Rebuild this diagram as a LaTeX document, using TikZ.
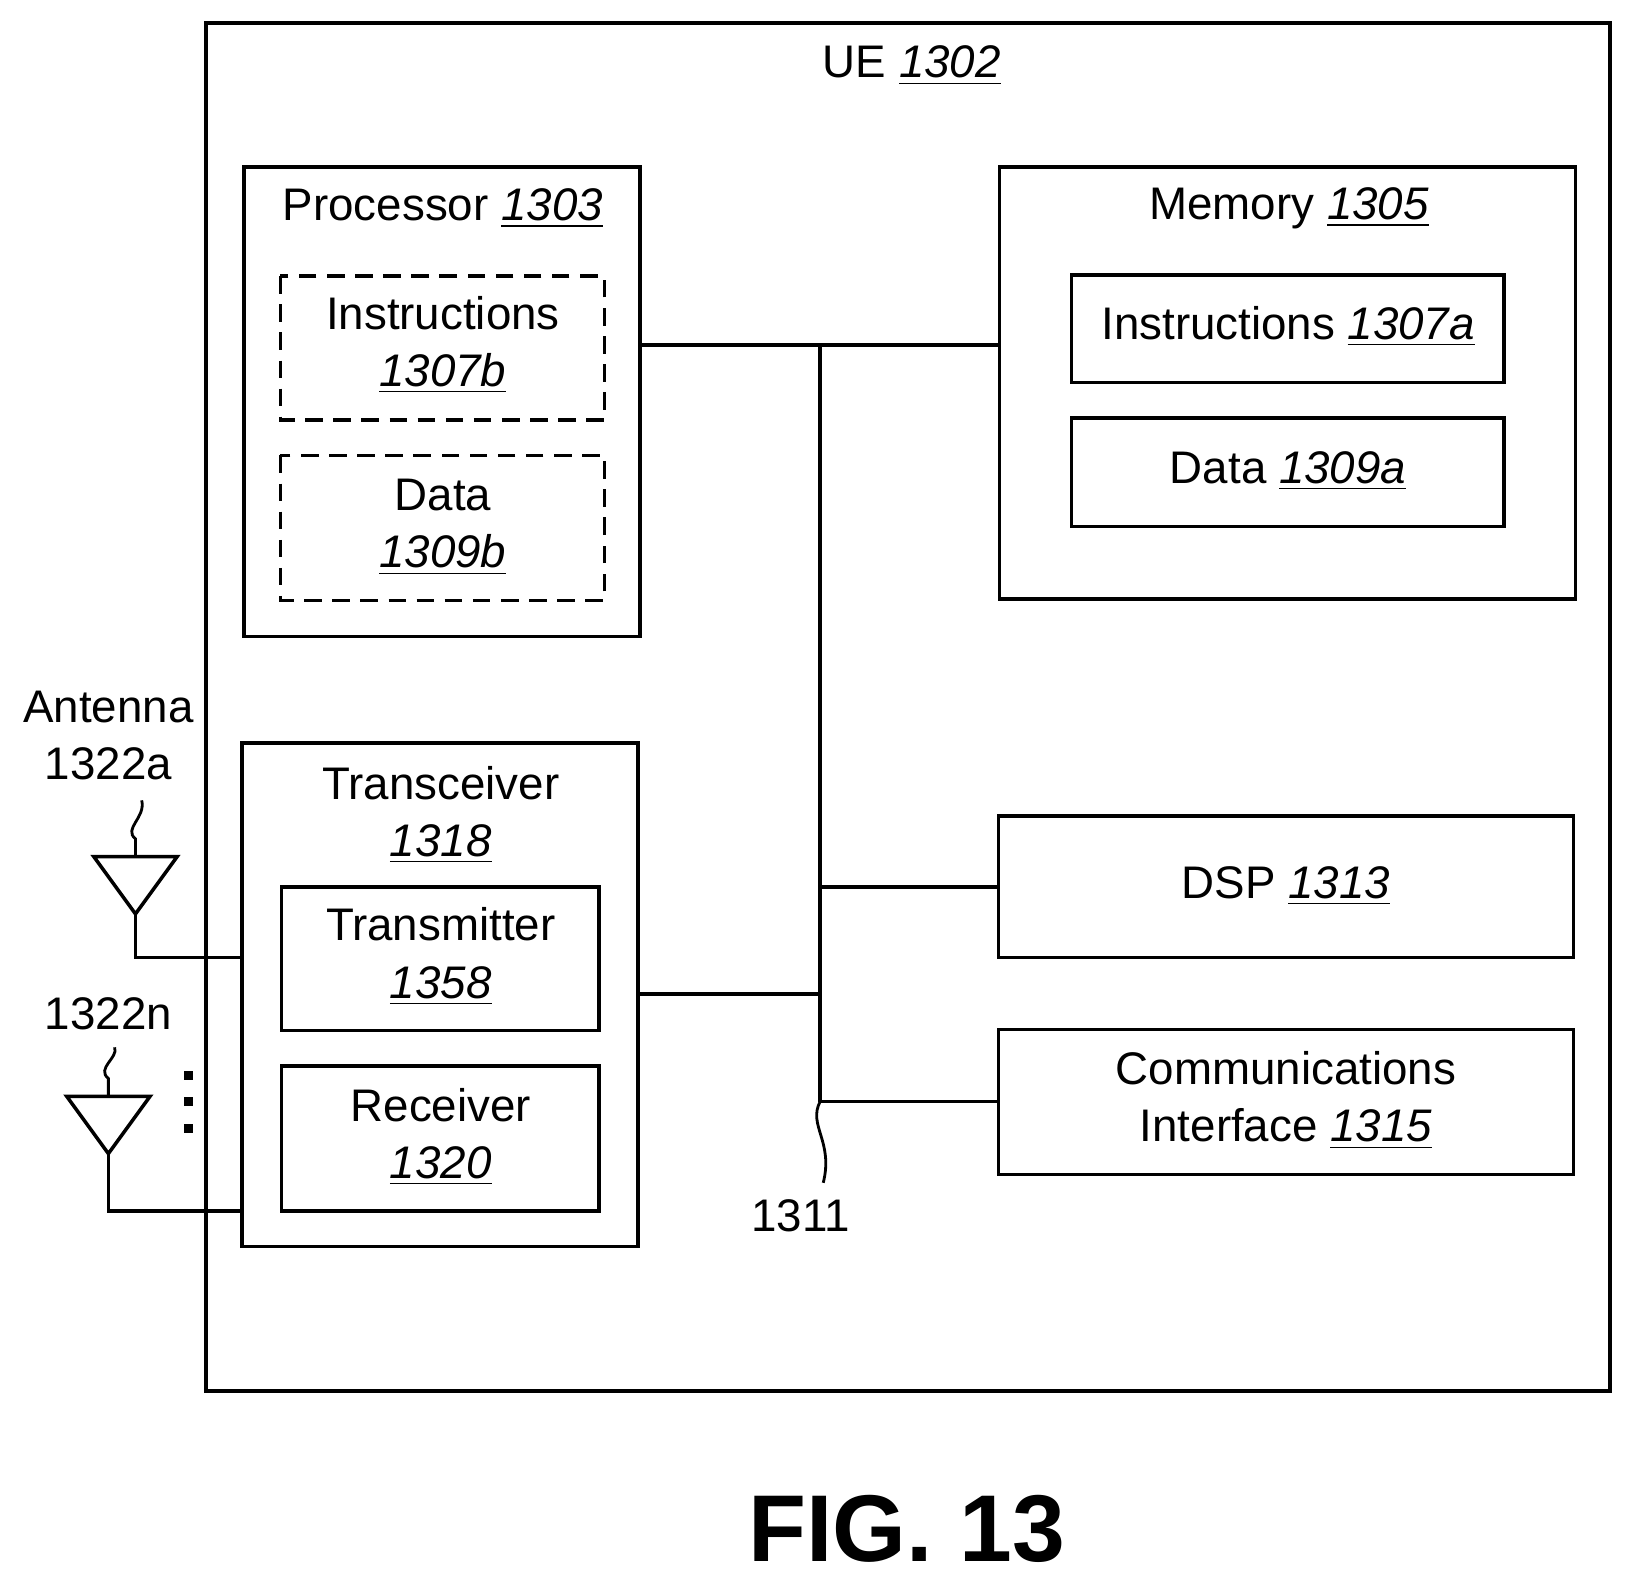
\documentclass[tikz,border=0pt]{standalone}
\usepackage{fontspec}
\setmainfont{Liberation Sans}
\newcommand{\rn}[1]{\underline{\textit{#1}}}
\begin{document}
\begin{tikzpicture}[x=0.01042cm,y=-0.01042cm,
  box/.style={draw,line width=1pt},
  dbox/.style={draw,line width=1pt,dash pattern=on 5pt off 3pt},
  ln/.style={line width=1pt},
  txt/.style={font=\fontsize{13}{16.3}\selectfont,align=center,inner sep=0pt}]
\useasboundingbox (0,0) rectangle (1568,1521);
\draw[line width=1.2pt] (198,22) rectangle (1545,1335);
\node[txt] (ue) at (875,63) {UE \rn{1302}};
\draw[box] (234,160) rectangle (614,611);
\coordinate (procR) at (614,331);
\node[txt] (proc) at (425,200) {Processor \rn{1303}};
\draw[dbox] (269,265) rectangle (580,403);
\node[txt] (i7b) at (425,331) {Instructions\\\rn{1307b}};
\draw[dbox] (269,437) rectangle (580,576);
\node[txt] (d9b) at (425,506) {Data\\\rn{1309b}};
\draw[box] (959,160) rectangle (1512,575);
\coordinate (memL) at (959,331);
\node[txt] (mem) at (1237,200) {Memory \rn{1305}};
\draw[box] (1028,264) rectangle (1443,367);
\node[txt] (i7a) at (1236,313) {Instructions \rn{1307a}};
\draw[box] (1028,401) rectangle (1443,505);
\node[txt] (d9a) at (1236,452) {Data \rn{1309a}};
\draw[box] (232,713) rectangle (612,1196);
\coordinate (trR) at (612,954);
\coordinate (trL1) at (232,919);
\coordinate (trL2) at (232,1162);
\node[txt] (tr) at (423,782) {Transceiver\\\rn{1318}};
\draw[box] (270,851) rectangle (575,989);
\node[txt] (tx) at (423,918) {Transmitter\\\rn{1358}};
\draw[box] (270,1023) rectangle (575,1162);
\node[txt] (rx) at (423,1091) {Receiver\\\rn{1320}};
\draw[box] (958,783) rectangle (1510,919);
\coordinate (dspL) at (958,851);
\node[txt] (dsp) at (1234,850) {DSP \rn{1313}};
\draw[box] (958,988) rectangle (1510,1127);
\coordinate (comL) at (958,1057);
\node[txt] (com) at (1234,1056) {Communications\\Interface \rn{1315}};
% bus
\coordinate (bT) at (787,331);
\coordinate (bB) at (787,1057);
\draw[ln] (bT) -- (bB);
\draw[ln] (procR) -- (memL);
\draw[ln] (787,851) -- (dspL);
\draw[ln] (trR) -- (787,954);
\draw[ln] (bB) -- (comL);
\draw[line width=0.8pt] (bB) .. controls (775,1080) and (800,1095) .. (790,1135);
\node[txt] (bus) at (768,1167) {1311};
% antennas
\node[txt] (a1) at (104,706) {Antenna\\1322a};
\draw[line width=0.8pt] (130,822) -- (130,805) .. controls (118,795) and (140,785) .. (136,768);
\draw[ln] (90,822) -- (170,822) -- (130,877) -- cycle;
\draw[ln] (130,877) |- (trL1);
\node[txt] (a2) at (104,973) {1322n};
\draw[line width=0.8pt] (104,1052) -- (104,1035) .. controls (92,1025) and (114,1015) .. (110,1005);
\draw[ln] (64,1052) -- (144,1052) -- (104,1107) -- cycle;
\draw[ln] (104,1107) |- (trL2);
\foreach \yy in {1032,1057,1083} \fill (177,\yy-4) rectangle (185,\yy+4);
\node[inner sep=0pt,font=\fontsize{27}{30}\bfseries] (fig) at (870,1467) {FIG. 13};
\end{tikzpicture}
\end{document}
